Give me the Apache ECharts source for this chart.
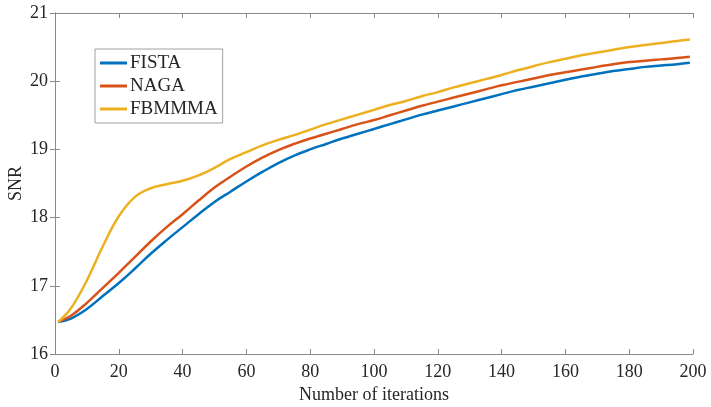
<!DOCTYPE html>
<html>
<head>
<meta charset="utf-8">
<script src="https://cdn.jsdelivr.net/npm/echarts@6/dist/echarts.min.js"></script>
<style>
  html, body { margin: 0; padding: 0; background: #fff; }
  #chart { width: 711px; height: 407px; }
</style>
</head>
<body>
<div id="chart"></div>
<script>
// values, every 5 iterations
const iters  = [1, 5, 10, 15, 20, 25, 30, 35, 40, 45, 50, 55, 60, 65, 70, 75, 80, 85, 90, 95, 100, 105, 110, 115, 120, 125, 130, 135, 140, 145, 150, 155, 160, 165, 170, 175, 180, 185, 190, 195, 199];
const fista  = [16.47, 16.52, 16.66, 16.85, 17.04, 17.25, 17.47, 17.67, 17.86, 18.05, 18.23, 18.38, 18.53, 18.67, 18.80, 18.91, 19.00, 19.08, 19.16, 19.23, 19.30, 19.37, 19.44, 19.51, 19.57, 19.63, 19.69, 19.75, 19.81, 19.87, 19.92, 19.97, 20.02, 20.07, 20.11, 20.15, 20.18, 20.21, 20.23, 20.25, 20.27];
const naga   = [16.47, 16.56, 16.75, 16.97, 17.19, 17.42, 17.65, 17.86, 18.05, 18.25, 18.44, 18.60, 18.75, 18.88, 18.99, 19.08, 19.16, 19.23, 19.30, 19.37, 19.43, 19.50, 19.57, 19.64, 19.70, 19.76, 19.82, 19.88, 19.94, 19.99, 20.04, 20.09, 20.13, 20.17, 20.21, 20.25, 20.28, 20.30, 20.32, 20.34, 20.36];
const fbmmma = [16.47, 16.67, 17.08, 17.58, 18.02, 18.30, 18.43, 18.49, 18.54, 18.62, 18.73, 18.86, 18.96, 19.06, 19.14, 19.21, 19.29, 19.37, 19.44, 19.51, 19.58, 19.65, 19.71, 19.78, 19.84, 19.91, 19.97, 20.03, 20.09, 20.16, 20.22, 20.28, 20.33, 20.38, 20.42, 20.46, 20.50, 20.53, 20.56, 20.59, 20.61];

const seriesNames = ['FISTA', 'NAGA', 'FBMMMA'];
const seriesValues = [fista, naga, fbmmma];
const colors = ['#0072BD', '#D95319', '#EDB120'];

const font = "'Liberation Serif', 'Times New Roman', serif";
const axisGray = '#8a8a8a';
const textColor = '#262626';

const chart = echarts.init(document.getElementById('chart'), null, { renderer: 'canvas' });

const boxAxis = {
  axisLine: { show: true, lineStyle: { color: axisGray, width: 1 } },
  axisTick: { show: true, inside: true, length: 5, lineStyle: { color: axisGray } },
  splitLine: { show: false }
};

chart.setOption({
  animation: false,
  backgroundColor: '#fff',
  color: colors,
  grid: { left: 55, right: 18, top: 13, bottom: 53, containLabel: false, outerBoundsMode: 'none' },
  legend: {
    data: seriesNames,
    orient: 'vertical',
    left: 95,
    top: 49,
    padding: [4, 5, 4, 5],
    itemGap: 3,
    itemWidth: 27,
    itemHeight: 3,
    icon: 'rect',
    backgroundColor: '#fff',
    borderColor: '#a0a0a0',
    borderWidth: 1,
    textStyle: { fontFamily: font, fontSize: 19, color: textColor, lineHeight: 20, padding: [0, 0, 0, -2] }
  },
  xAxis: [
    Object.assign({
      type: 'value', min: 0, max: 200, interval: 20, position: 'bottom',
      name: 'Number of iterations', nameLocation: 'middle', nameGap: 32,
      nameMoveOverlap: false,
      nameTextStyle: { fontFamily: font, fontSize: 18, color: textColor },
      axisLabel: { fontFamily: font, fontSize: 18, color: textColor, margin: 9 }
    }, boxAxis),
    Object.assign({
      type: 'value', min: 0, max: 200, interval: 20, position: 'top',
      axisLabel: { show: false }
    }, boxAxis)
  ],
  yAxis: [
    Object.assign({
      type: 'value', min: 16, max: 21, interval: 1, position: 'left',
      name: 'SNR', nameLocation: 'middle', nameGap: 30,
      nameMoveOverlap: false,
      nameTextStyle: { fontFamily: font, fontSize: 18, color: textColor },
      axisLabel: { fontFamily: font, fontSize: 18, color: textColor, margin: 7 }
    }, boxAxis),
    Object.assign({
      type: 'value', min: 16, max: 21, interval: 1, position: 'right',
      axisLabel: { show: false }
    }, boxAxis)
  ],
  series: seriesNames.map((name, i) => ({
    name: name,
    type: 'line',
    smooth: 0.4,
    showSymbol: false,
    symbol: 'none',
    lineStyle: { width: 2.5, color: colors[i] },
    data: iters.map((it, k) => [it, seriesValues[i][k]])
  }))
});
</script>
</body>
</html>
